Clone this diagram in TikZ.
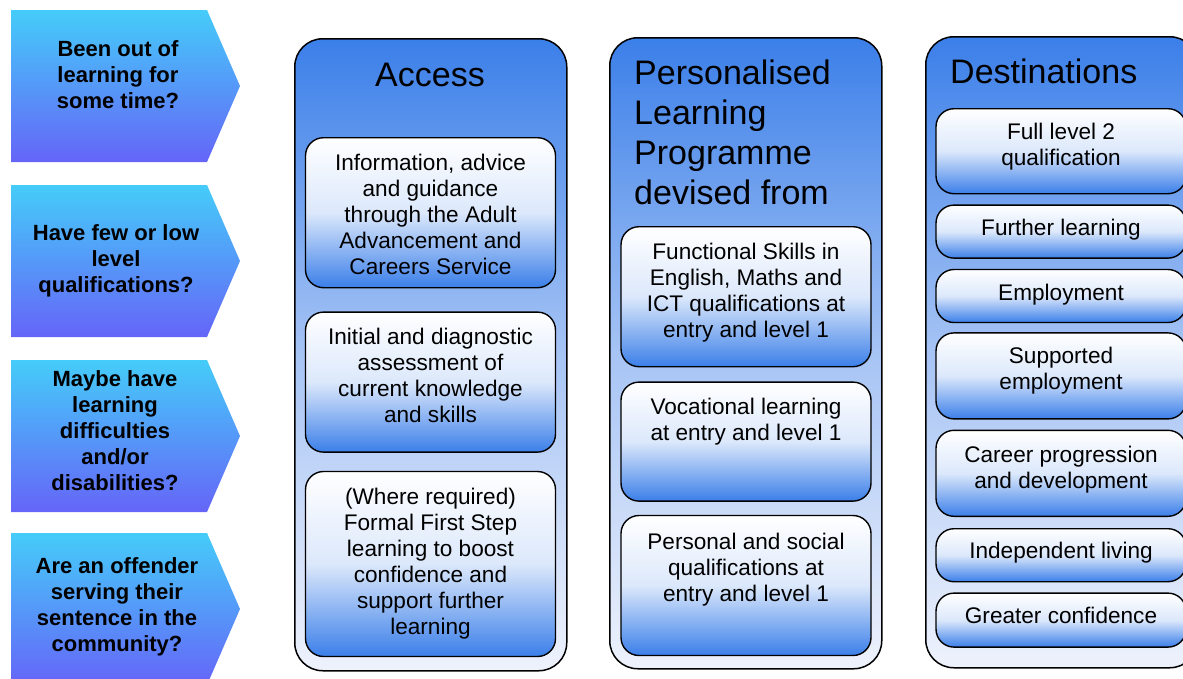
\documentclass[tikz,border=0pt]{standalone}
\usepackage{fontspec}
\setmainfont{Liberation Sans}
\usetikzlibrary{positioning}
\definecolor{colblue}{HTML}{3B7FE9}
\definecolor{colpale}{HTML}{EEF2FC}
\definecolor{chevtop}{HTML}{45CCF9}
\definecolor{chevbot}{HTML}{6565F8}
\tikzset{x=1pt, y=-1pt, % one unit is one pixel, y runs downwards
column/.style={draw, line width=1.5pt, rounded corners=28pt, top color=colblue, bottom color=colpale, middle color=colblue!40!colpale, minimum width=272pt, anchor=north west}, % the three big columns
inbox/.style={draw, line width=1.4pt, rounded corners=18pt, top color=white, bottom color=colblue, middle color=colblue!18!white, minimum width=250pt}, % boxes inside the columns
boxtext/.style={anchor=north, inner sep=0pt, align=center, font=\fontsize{22.6}{26}\selectfont},
title/.style={inner sep=0pt, font=\fontsize{34}{40}\selectfont},
chevtext/.style={inner sep=0pt, align=center, font=\bfseries\fontsize{22}{26}\selectfont},
}

\begin{document}
\begin{tikzpicture}
\useasboundingbox (0,0) rectangle (1183,678);
\clip (0,0) rectangle (1183,678);
% arrows on the left
\foreach \t in {10,185,360,533}
  \shade[top color=chevtop, bottom color=chevbot] (11,\t) -- ++(196,0) -- ++(33,76) -- ++(-33,76) -- ++(-196,0) -- cycle;
\node[chevtext] (q1) at (118,75) {Been out of\\learning for\\some time?};
\node[chevtext] (q2) at (116,261) {Have few or low\\level\\qualifications?};
\node[chevtext] (q3) at (115,431) {Maybe have\\learning\\difficulties\\and/or\\disabilities?};
\node[chevtext] (q4) at (117,607) {Are an offender\\serving their\\sentence in the\\community?};
% columns
\node[column, minimum height=632pt] (access) at (294,38) {};
\node[column, minimum height=631pt] (plp) at (609,37) {};
\node[column, minimum height=631pt] (dest) at (925,36) {};
\node[title] (accesstitle) at (430,75) {Access};
\node[title, anchor=north west, align=left] (plptitle) at (634,60) {Personalised\\Learning\\Programme\\devised from};
\node[title, anchor=west] (desttitle) at (950,71) {Destinations};
% access boxes
\node[inbox, anchor=north, minimum height=150pt] (a1) at (430.5,137) {};
\node[inbox, below=23pt of a1, minimum height=140pt] (a2) {};
\node[inbox, below=18pt of a2, minimum height=185pt] (a3) {};
\node[boxtext, below=17pt of a1.north] {Information, advice\\and guidance\\through the Adult\\Advancement and\\Careers Service};
\node[boxtext, below=17pt of a2.north] {Initial and diagnostic\\assessment of\\current knowledge\\and skills};
\node[boxtext, below=17pt of a3.north] {(Where required)\\Formal First Step\\learning to boost\\confidence and\\support further\\learning};
% programme boxes
\node[inbox, anchor=north, minimum height=140pt] (p1) at (746,226) {};
\node[inbox, below=14pt of p1, minimum height=119pt] (p2) {};
\node[inbox, below=13pt of p2, minimum height=140pt] (p3) {};
\node[boxtext, below=17pt of p1.north] {Functional Skills in\\English, Maths and\\ICT qualifications at\\entry and level 1};
\node[boxtext, below=17pt of p2.north] {Vocational learning\\at entry and level 1};
\node[boxtext, below=18pt of p3.north] {Personal and social\\qualifications at\\entry and level 1};
% destination boxes
\node[inbox, anchor=north, minimum height=85pt] (d1) at (1061,108) {};
\node[inbox, below=10pt of d1, minimum height=53pt] (d2) {};
\node[inbox, below=10pt of d2, minimum height=53pt] (d3) {};
\node[inbox, below=9pt of d3, minimum height=86pt] (d4) {};
\node[inbox, below=10pt of d4, minimum height=86pt] (d5) {};
\node[inbox, below=11pt of d5, minimum height=53pt] (d6) {};
\node[inbox, below=10pt of d6, minimum height=54pt] (d7) {};
\node[boxtext, below=15pt of d1.north] {Full level 2\\qualification};
\node[boxtext, below=15pt of d2.north] {Further learning};
\node[boxtext, below=15pt of d3.north] {Employment};
\node[boxtext, below=15pt of d4.north] {Supported\\employment};
\node[boxtext, below=16pt of d5.north] {Career progression\\and development};
\node[boxtext, below=14pt of d6.north] {Independent living};
\node[boxtext, below=15pt of d7.north] {Greater confidence};
\end{tikzpicture}
\end{document}
